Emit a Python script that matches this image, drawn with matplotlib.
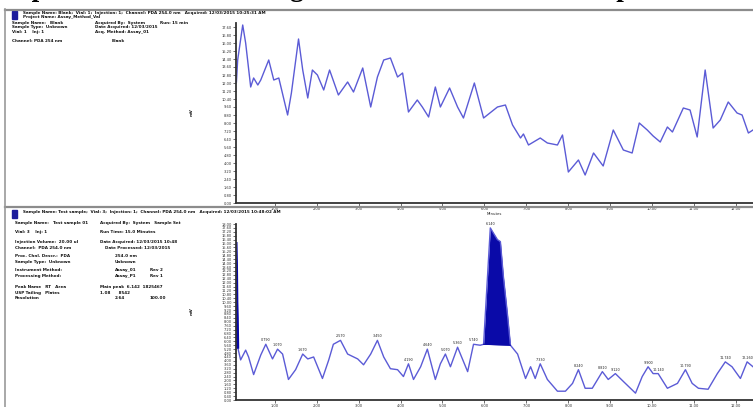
import numpy as np
import matplotlib.pyplot as plt
from matplotlib.lines import Line2D
from matplotlib.patches import Rectangle

# top trace (blank / standard), time in min, response in mV
top_time = [0.09, 0.12, 0.24, 0.31, 0.43, 0.50, 0.60, 0.67, 0.86, 0.98, 1.10, 1.31, 1.40,
            1.57, 1.67, 1.79, 1.90, 2.02, 2.17, 2.31, 2.52, 2.74, 2.88, 3.10, 3.29, 3.45,
            3.60, 3.76, 3.93, 4.05, 4.19, 4.40, 4.52, 4.67, 4.83, 4.95, 5.17, 5.36, 5.50,
            5.76, 5.98, 6.31, 6.50, 6.67, 6.86, 6.93, 7.05, 7.33, 7.50, 7.74, 7.86, 8.00,
            8.24, 8.40, 8.60, 8.83, 9.07, 9.31, 9.52, 9.69, 9.88, 10.02, 10.19, 10.36,
            10.48, 10.74, 10.90, 11.07, 11.26, 11.45, 11.62, 11.81, 12.02, 12.14, 12.29, 12.40]
top_resp = [12.1, 14.3, 17.8, 16.0, 11.6, 12.5, 11.8, 12.3, 14.3, 12.3, 12.5, 8.8, 11.0,
            16.4, 13.3, 10.5, 13.3, 12.8, 11.3, 13.3, 10.8, 12.1, 11.1, 13.5, 9.6, 12.6,
            14.3, 14.5, 12.6, 13.0, 9.1, 10.3, 9.6, 8.6, 11.6, 9.6, 11.5, 9.6, 8.5,
            12.0, 8.5, 9.6, 9.8, 7.8, 6.5, 6.9, 5.8, 6.5, 6.0, 5.8, 6.8, 3.1,
            4.3, 2.8, 5.0, 3.7, 7.3, 5.3, 5.0, 8.0, 7.3, 6.7, 6.1, 7.6,
            7.1, 9.5, 9.3, 6.6, 13.3, 7.5, 8.3, 10.1, 9.0, 8.8, 7.0, 7.3]

# bottom trace (sample)
bot_time = [0.08, 0.09, 0.10, 0.11, 0.12, 0.19, 0.31, 0.38, 0.50, 0.67, 0.79, 0.95, 1.07,
            1.19, 1.33, 1.50, 1.67, 1.79, 1.93, 2.14, 2.29, 2.40, 2.57, 2.74, 2.98, 3.12,
            3.29, 3.45, 3.60, 3.76, 3.93, 4.07, 4.19, 4.31, 4.48, 4.64, 4.83, 4.95, 5.07,
            5.19, 5.36, 5.60, 5.74, 5.90, 5.98, 6.14, 6.21, 6.31, 6.38, 6.45, 6.55, 6.62,
            6.79, 6.98, 7.10, 7.21, 7.33, 7.50, 7.74, 7.93, 8.10, 8.24, 8.40, 8.57, 8.81,
            8.95, 9.12, 9.31, 9.60, 9.76, 9.90, 10.02, 10.14, 10.36, 10.60, 10.79, 10.95,
            11.10, 11.33, 11.55, 11.74, 11.90, 12.10, 12.26, 12.40]
bot_resp = [16.0, 14.0, 10.0, 8.4, 5.4, 4.1, 5.1, 4.4, 2.6, 4.6, 5.7, 4.2, 5.2,
            4.7, 2.1, 3.1, 4.7, 4.2, 4.4, 2.2, 4.1, 5.7, 6.1, 4.7, 4.2, 3.6,
            4.7, 6.1, 4.4, 3.2, 3.1, 2.4, 3.7, 2.1, 3.4, 5.2, 2.1, 3.7, 4.7,
            3.4, 5.4, 2.9, 5.7, 5.6, 5.7, 17.6, 17.1, 16.4, 16.2, 12.7, 8.7, 5.6,
            4.7, 2.2, 3.4, 2.2, 3.7, 2.1, 0.9, 0.9, 1.7, 3.1, 1.2, 1.2, 2.9,
            2.1, 2.7, 1.9, 0.7, 2.4, 3.4, 2.7, 2.7, 1.2, 1.7, 3.1, 1.7,
            1.2, 1.1, 2.7, 3.9, 3.4, 2.2, 3.9, 3.4]

# integrated main peak
main_peak = (5.98, 6.62)
# labelled peaks in the sample trace
peak_times = [0.79, 1.07, 1.67, 2.57, 3.45, 4.19, 4.64, 5.07, 5.36, 5.74, 6.14,
              7.33, 8.24, 8.81, 9.12, 9.90, 10.14, 10.79, 11.74, 12.26]

time_ticks = list(range(1, 13))

W, H = 753, 407
def fx(px):
    return px / W
def fy(py):
    return 1 - py / H

line_c = '#5b5bd6'
fill_c = '#0a0aa8'

plt.rcParams['font.family'] = ['DejaVu Sans']
fig = plt.figure(figsize=(7.53, 4.07), dpi=100)
fig.patch.set_facecolor('white')

# title, cut off by the top edge (only descenders show)
fig.text(0, fy(-4.5), 'Representative chromatograms of blank and test sample',
         family='Liberation Serif', weight='bold', fontsize=19.5,
         ha='left', va='baseline', color='black')

# frame lines
for y in (10, 207):
    fig.add_artist(Line2D([fx(5), 1], [fy(y), fy(y)], color='#8c8c8c', lw=1.6,
                          transform=fig.transFigure))
fig.add_artist(Line2D([fx(5), fx(5)], [fy(9), 0], color='#9a9a9a', lw=1.2,
                      transform=fig.transFigure))

# little blue icons and report text
for y0 in (11, 210):
    fig.add_artist(Rectangle((fx(12), fy(y0 + 8)), 5 / W, 8 / H, color='#1c1c9c',
                             transform=fig.transFigure))

top_text = [
    (23, 13, 'Sample Name: Blank;  Vial: 1;  Injection: 1;  Channel: PDA 254.0 nm   Acquired: 12/03/2015 10:25:31 AM'),
    (23, 17, 'Project Name: Assay_Method_Val'),
    (12, 23, 'Sample Name:   Blank'), (95, 23, 'Acquired By:  System'), (160, 23, 'Run: 15 min'),
    (12, 27, 'Sample Type:  Unknown'), (95, 27, 'Date Acquired: 12/03/2015'),
    (12, 32, 'Vial: 1    Inj: 1'), (95, 32, 'Acq. Method: Assay_01'),
    (12, 41, 'Channel: PDA 254 nm'), (112, 41, 'Blank'),
]
bot_text = [
    (23, 212, 'Sample Name: Test sample;  Vial: 3;  Injection: 1;  Channel: PDA 254.0 nm   Acquired: 12/03/2015 10:48:02 AM'),
    (15, 223, 'Sample Name:   Test sample 01'), (100, 223, 'Acquired By:  System   Sample Set'),
    (15, 232, 'Vial: 3    Inj: 1'), (100, 232, 'Run Time: 15.0 Minutes'),
    (15, 242, 'Injection Volume:  20.00 ul'), (100, 242, 'Date Acquired: 12/03/2015 10:48'),
    (15, 248, 'Channel:  PDA 254.0 nm'), (105, 248, 'Date Processed: 12/03/2015'),
    (15, 256, 'Proc. Chnl. Descr.:  PDA'), (115, 256, '254.0 nm'),
    (15, 262, 'Sample Type:  Unknown'), (115, 262, 'Unknown'),
    (15, 270, 'Instrument Method:'), (115, 270, 'Assay_01'), (150, 270, 'Rev 2'),
    (15, 276, 'Processing Method:'), (115, 276, 'Assay_P1'), (150, 276, 'Rev 1'),
    (15, 287, 'Peak Name   RT   Area'), (100, 287, 'Main peak  6.142  1825467'),
    (15, 293, 'USP Tailing   Plates'), (100, 293, '1.08      8542'),
    (15, 298, 'Resolution'), (115, 298, '2.64'), (150, 298, '100.00'),
]
for x, y, s in top_text + bot_text:
    fig.text(fx(x), fy(y), s, fontsize=3.0, weight='bold', ha='left', va='center',
             color='#111111')

for y in (112, 311):
    fig.text(fx(192), fy(y), 'mV', fontsize=3.2, weight='bold', rotation=90,
             ha='center', va='center', color='#222222')

ax_w = (W - 236) / W
ax1 = fig.add_axes([fx(236), fy(203), ax_w, 180 / H])
ax2 = fig.add_axes([fx(236), fy(400), ax_w, 176 / H])

ax1.plot(top_time, top_resp, color=line_c, lw=1.0, solid_joinstyle='round')
ax2.plot(bot_time, bot_resp, color=line_c, lw=1.0, solid_joinstyle='round')
# solvent front drawn dark
ax2.plot(bot_time[:5], bot_resp[:5], color=fill_c, lw=2.2)

bt = np.array(bot_time)
br = np.array(bot_resp)
m = (bt >= main_peak[0]) & (bt <= main_peak[1])
base = np.interp(bt[m], [bt[m][0], bt[m][-1]], [br[m][0], br[m][-1]])
ax2.fill_between(bt[m], base, br[m], color=fill_c, lw=0)
ax2.plot([bt[m][0], bt[m][-1]], [br[m][0], br[m][-1]], color=fill_c, lw=0.8)

for pt in peak_times:
    h = np.interp(pt, bt, br)
    ax2.annotate(f'{pt:.3f}', (pt, h), xytext=(0, 1.5), textcoords='offset points',
                 fontsize=2.4, ha='center', va='bottom', color='#222222')

for ax, step in ((ax1, 0.8), (ax2, 0.4)):
    ax.set_xlim(0.08, 12.4)
    ax.set_ylim(0, 18)
    ax.set_facecolor('white')
    for side in ('top', 'right'):
        ax.spines[side].set_visible(False)
    for side in ('left', 'bottom'):
        ax.spines[side].set_color('#333333')
        ax.spines[side].set_linewidth(1.3)
    ax.set_xticks(time_ticks)
    ax.set_xticklabels([f'{t:.2f}' for t in time_ticks])
    yt = np.arange(0, 18.01, step)
    ax.set_yticks(yt)
    ax.set_yticklabels([f'{v:.2f}' for v in yt])
    ax.tick_params(axis='both', labelsize=2.6, length=2, width=0.5, pad=1,
                   colors='#333333')

ax1.set_xlabel('Minutes', fontsize=2.8, labelpad=0.5, color='#222222')

fig.savefig('out.png', dpi=100, facecolor='white')
